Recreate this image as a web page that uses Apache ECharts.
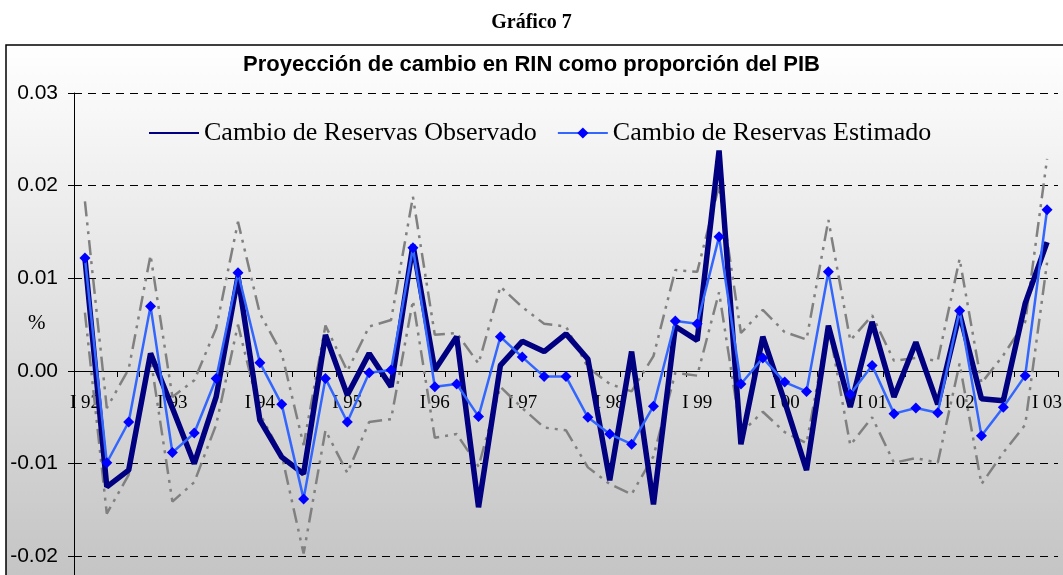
<!DOCTYPE html>
<html>
<head>
<meta charset="utf-8">
<script src="https://cdn.jsdelivr.net/npm/echarts@6/dist/echarts.min.js"></script>
<style>
html,body{margin:0;padding:0;background:#fff;}
#chart{width:1063px;height:575px;}
</style>
</head>
<body>
<div id="chart"></div>
<script>
// Quarterly categories I 92 ... I 03
const categories = [];
const yrs = ['92','93','94','95','96','97','98','99','00','01','02','03'];
const qs = ['I','II','III','IV'];
for (let y = 0; y < yrs.length; y++) {
  for (let q = 0; q < 4; q++) {
    if (y === yrs.length - 1 && q > 0) break;
    categories.push(qs[q] + ' ' + yrs[y]);
  }
}

const observed = [0.0122, -0.0125, -0.0107, 0.0019, -0.0040, -0.0100, -0.0028, 0.0102,
  -0.0053, -0.0093, -0.0111, 0.0039, -0.0026, 0.0019, -0.0017,
  0.0136, 0.0001, 0.0037, -0.0147, 0.0006, 0.0032, 0.0021, 0.0040,
  0.0013, -0.0118, 0.0021, -0.0144, 0.0048, 0.0033, 0.0238,
  -0.0079, 0.0037, -0.0033, -0.0107, 0.0049, -0.0039, 0.0053, -0.0028,
  0.0031, -0.0036, 0.0062, -0.0030, -0.0032, 0.0073, 0.0139];

const estimated = [0.0122, -0.0099, -0.0055, 0.0070, -0.0088, -0.0067, -0.0008, 0.0106,
  0.0009, -0.0036, -0.0138, -0.0008, -0.0055, -0.0002, 0.0001,
  0.0133, -0.0017, -0.0014, -0.0049, 0.0037, 0.0015, -0.0006, -0.0006,
  -0.0050, -0.0068, -0.0079, -0.0038, 0.0054, 0.0051, 0.0145,
  -0.0014, 0.0014, -0.0012, -0.0022, 0.0107, -0.0025, 0.0006, -0.0046,
  -0.0040, -0.0045, 0.0065, -0.0070, -0.0039, -0.0005, 0.0174];

const upperBand = [0.0183, -0.0040, 0.0002, 0.0125, -0.0028, -0.0010, 0.0046, 0.0161,
  0.0062, 0.0019, -0.0080, 0.0049, 0.0000, 0.0048, 0.0055,
  0.0188, 0.0039, 0.0041, 0.0008, 0.0091, 0.0069, 0.0051, 0.0048,
  0.0004, -0.0014, -0.0022, 0.0016, 0.0109, 0.0107, 0.0200,
  0.0041, 0.0066, 0.0042, 0.0034, 0.0163, 0.0033, 0.0060, 0.0011,
  0.0014, 0.0011, 0.0121, -0.0013, 0.0017, 0.0053, 0.0229];

const lowerBand = [0.0063, -0.0154, -0.0112, 0.0014, -0.0141, -0.0120, -0.0058, 0.0050,
  -0.0046, -0.0091, -0.0197, -0.0064, -0.0110, -0.0055, -0.0052,
  0.0076, -0.0072, -0.0068, -0.0103, -0.0017, -0.0040, -0.0061, -0.0064,
  -0.0104, -0.0122, -0.0133, -0.0092, -0.0002, -0.0005, 0.0085,
  -0.0067, -0.0044, -0.0066, -0.0078, 0.0050, -0.0080, -0.0050, -0.0099,
  -0.0094, -0.0099, 0.0008, -0.0122, -0.0088, -0.0058, 0.0117];

const chart = echarts.init(document.getElementById('chart'), null, {renderer: 'canvas'});
const serif = 'Liberation Serif, Times New Roman, serif';
const sans = 'Liberation Sans, Arial, sans-serif';

const bandStyle = {color: '#808080', width: 2.5, type: [15, 6, 3, 6, 3, 6]};

chart.setOption({
  animation: false,
  backgroundColor: '#ffffff',
  title: {
    text: 'Gráfico 7',
    left: 'center',
    top: 8,
    textStyle: {fontFamily: serif, fontSize: 20, fontWeight: 'bold', color: '#000'}
  },
  graphic: [
    {
      type: 'rect', z: -10, silent: true,
      shape: {x: 6, y: 45, width: 1070, height: 545},
      style: {
        fill: new echarts.graphic.LinearGradient(0, 0, 0, 1, [
          {offset: 0, color: '#ffffff'},
          {offset: 0.5, color: '#e0e0e0'},
          {offset: 1, color: '#c3c3c3'}
        ]),
        stroke: '#000', lineWidth: 1.5
      }
    },
    {
      type: 'text', silent: true, left: 'center', top: 54,
      style: {text: 'Proyección de cambio en RIN como proporción del PIB',
        fontFamily: sans, fontSize: 22, fontWeight: 'bold', fill: '#000'}
    },
    {
      type: 'text', silent: true, left: 28, top: 313,
      style: {text: '%', fontFamily: serif, fontSize: 21, fill: '#000'}
    }
  ],
  legend: {
    data: [
      {name: 'Cambio de Reservas Observado', itemStyle: {opacity: 0}},
      {name: 'Cambio de Reservas Estimado'}
    ],
    left: 143, top: 115,
    itemWidth: 50, itemHeight: 14, itemGap: 20,
    textStyle: {fontFamily: serif, fontSize: 26, color: '#000'}
  },
  grid: {left: 74, top: 93, width: 984, height: 556, outerBoundsMode: 'none', containLabel: false},
  xAxis: {
    type: 'category',
    data: categories,
    boundaryGap: true,
    position: 'bottom',
    offset: -278,
    axisLine: {onZero: false, lineStyle: {color: '#000', width: 1}},
    axisTick: {show: true, interval: 0, length: 6, lineStyle: {color: '#000'}},
    axisLabel: {interval: 3, margin: 23, fontFamily: serif, fontSize: 19, color: '#000'},
    splitLine: {show: false}
  },
  yAxis: {
    type: 'value',
    min: -0.03, max: 0.03, interval: 0.01,
    axisLine: {show: true, lineStyle: {color: '#000', width: 1}},
    axisTick: {show: true, length: 6, lineStyle: {color: '#000'}},
    axisLabel: {margin: 16, fontFamily: sans, fontSize: 21, color: '#000',
      formatter: v => (Math.abs(v) < 1e-9 ? 0 : v).toFixed(2)},
    splitLine: {show: true, lineStyle: {color: '#000', width: 1, type: [8, 6]}}
  },
  series: [
    {name: 'Banda superior', type: 'line', data: upperBand, symbol: 'none', lineStyle: bandStyle, z: 2},
    {name: 'Banda inferior', type: 'line', data: lowerBand, symbol: 'none', lineStyle: bandStyle, z: 2},
    {name: 'Cambio de Reservas Observado', type: 'line', data: observed, symbol: 'none',
      lineStyle: {color: '#000080', width: 5.5}, itemStyle: {color: '#000080'}, z: 3},
    {name: 'Cambio de Reservas Estimado', type: 'line', data: estimated,
      symbol: 'diamond', symbolSize: 11,
      lineStyle: {color: '#3366ff', width: 2.5}, itemStyle: {color: '#0000ff'}, z: 4}
  ]
});
</script>
</body>
</html>
